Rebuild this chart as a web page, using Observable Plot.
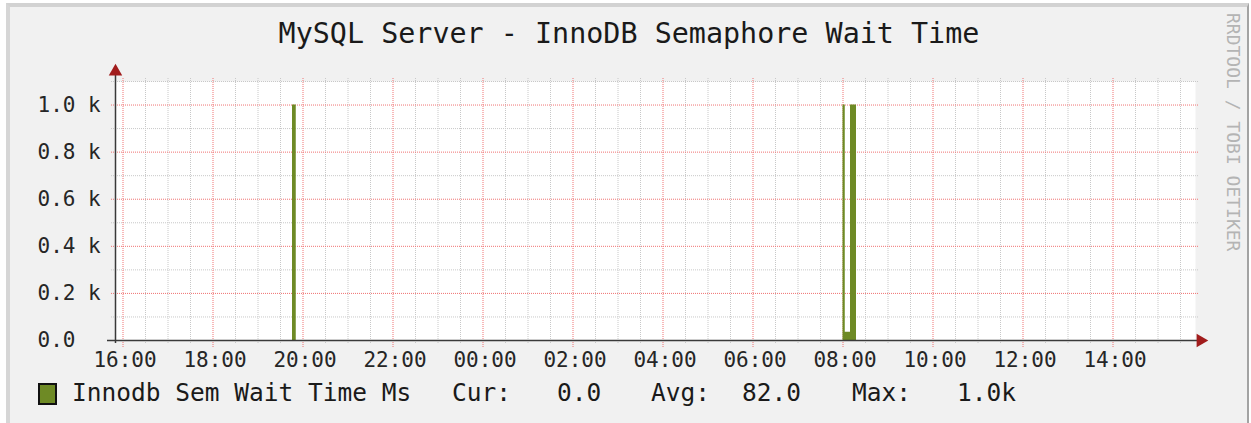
<!DOCTYPE html>
<html>
<head>
<meta charset="utf-8">
<script src="https://cdn.jsdelivr.net/npm/d3@7"></script>
<script src="https://cdn.jsdelivr.net/npm/@observablehq/plot@0.6"></script>
<style>
  html, body { margin: 0; padding: 0; background: #ffffff; width: 1251px; height: 423px; overflow: hidden; }
  .frame { position: absolute; left: 6px; top: 3px; width: 1243px; height: 430px; background: #f1f1f1;
           border-top: 4px solid #d2d2d2; border-left: 4px solid #d6d6d6; border-right: 2px solid #a3a3a3; box-sizing: border-box; }
  .mono { font-family: "DejaVu Sans Mono", monospace; position: absolute; white-space: pre; }
  #title { left: 0; width: 1258px; top: 16px; text-align: center; font-size: 28.4px; color: #1a1a1a; line-height: 36px; }
  #chart { position: absolute; left: 0; top: 56px; }
  .leg { top: 378px; font-size: 24.5px; line-height: 30px; color: #1a1a1a; }
  #swatch { position: absolute; left: 38px; top: 383px; width: 19px; height: 22px; box-sizing: border-box; border: 2px solid #111; }
  #wm { position: absolute; left: 1223px; top: 13px; writing-mode: vertical-rl; font-family: "DejaVu Sans Mono", monospace;
        font-size: 18px; color: #b4b4b4; line-height: 20px; white-space: pre; }
</style>
</head>
<body>
<div class="frame"></div>
<div id="title" class="mono"></div>
<div id="chart"></div>
<div id="wm"></div>
<div id="legend"></div>
<script>
// ---------- data ----------
const chartTitle = "MySQL Server - InnoDB Semaphore Wait Time";
const watermark = "RRDTOOL / TOBI OETIKER";
const seriesName = "Innodb Sem Wait Time Ms";
const seriesColor = "#6e8a25";
const sampleTimes = ["2024-01-01T15:50Z", "2024-01-01T19:46Z", "2024-01-01T19:51Z",
                     "2024-01-02T08:00Z", "2024-01-02T08:03Z", "2024-01-02T08:10Z",
                     "2024-01-02T08:18Z", "2024-01-02T15:50Z"];
const waitMs = [0, 1000, 0, 1000, 35, 1000, 0, 0];
const xTickLabels = ["16:00","18:00","20:00","22:00","00:00","02:00","04:00","06:00","08:00","10:00","12:00","14:00"];
const yTickValues = [0, 200, 400, 600, 800, 1000];
const yTickLabels = ["0.0", "0.2 k", "0.4 k", "0.6 k", "0.8 k", "1.0 k"];
const yMinorValues = [100, 300, 500, 700, 900, 1100];
const legendLabels = ["Cur:", "0.0", "Avg:", "82.0", "Max:", "1.0k"];
const timeStart = "2024-01-01T15:50Z";
const timeEnd = "2024-01-02T15:50Z";
const yMax = 1100;

// ---------- build ----------
const t0 = new Date(timeStart), t1 = new Date(timeEnd);
const data = sampleTimes.map((t, i) => ({time: new Date(t), value: waitMs[i]}));
const xTicks = xTickLabels.map(l => {
  const [h, m] = l.split(":").map(Number);
  const d = new Date(t0); d.setUTCHours(h, m, 0, 0);
  if (d < t0) d.setUTCDate(d.getUTCDate() + 1);
  return {time: d, label: l};
});
const majorSet = new Set(xTicks.map(d => +d.time));
const xMinor = d3.utcMinute.every(30).range(t0, t1).filter(d => !majorSet.has(+d));
const yTicks = yTickValues.map((v, i) => ({v, label: yTickLabels[i]}));

const monoFont = "DejaVu Sans Mono";
const minorColor = "#c8c8c8";
const majorColor = "#f07272";
const plot = Plot.plot({
  width: 1220,
  height: 314,
  marginLeft: 115,
  marginRight: 25,
  marginTop: 25,
  marginBottom: 30,
  style: {background: "transparent", fontFamily: monoFont, fontSize: "21px", overflow: "visible"},
  x: {type: "utc", domain: [t0, t1], axis: null},
  y: {domain: [0, yMax], axis: null},
  marks: [
    Plot.frame({fill: "white", stroke: "none"}),
    // minor grid
    Plot.ruleX(xMinor, {stroke: minorColor, strokeDasharray: "1,1", strokeWidth: 1, insetTop: -3, insetBottom: -4}),
    Plot.ruleY(yMinorValues, {stroke: minorColor, strokeDasharray: "1,1", strokeWidth: 1, insetLeft: -4, insetRight: -4}),
    // major grid
    Plot.ruleX(xTicks, {x: "time", stroke: majorColor, strokeDasharray: "1,1", strokeWidth: 1, insetTop: -3, insetBottom: -8}),
    Plot.ruleY(yTickValues.filter(v => v > 0), {stroke: majorColor, strokeDasharray: "1,1", strokeWidth: 1, insetLeft: -4, insetRight: -4}),
    // data
    Plot.areaY(data, {x: "time", y: "value", curve: "step-after", fill: seriesColor}),
    // axes
    Plot.ruleY([0], {stroke: "#3a3a3a", strokeWidth: 1.5, insetLeft: -8, insetRight: -6}),
    Plot.ruleX([t0], {stroke: "#3a3a3a", strokeWidth: 1.5, insetTop: -8, insetBottom: -3}),
    Plot.dot([t1], {x: d => d, y: () => 0, symbol: "triangle", r: 5, rotate: 90, dx: 5, fill: "#a11c1c", stroke: "none"}),
    Plot.dot([t0], {x: d => d, y: () => yMax, symbol: "triangle", r: 5, dy: -10, fill: "#a11c1c", stroke: "none"}),
    // tick labels
    Plot.text(xTicks, {x: "time", y: () => 0, text: "label", dy: 20, dx: 2, fill: "#262626", fontFamily: monoFont, fontSize: 21}),
    Plot.text(yTicks, {y: "v", text: "label", frameAnchor: "left", textAnchor: "start", dx: -78, fill: "#262626", fontFamily: monoFont, fontSize: 21})
  ]
});
document.getElementById("chart").appendChild(plot);

document.getElementById("title").textContent = chartTitle;
document.getElementById("wm").textContent = watermark;

const legend = document.getElementById("legend");
const sw = document.createElement("div");
sw.id = "swatch"; sw.style.background = seriesColor;
legend.appendChild(sw);
const legendItems = [seriesName, ...legendLabels];
const legendLeft = [72, 452, 557, 651, 742, 852, 957];
legendItems.forEach((txt, i) => {
  const s = document.createElement("div");
  s.className = "mono leg";
  s.style.left = legendLeft[i] + "px";
  s.textContent = txt;
  legend.appendChild(s);
});
</script>
</body>
</html>
